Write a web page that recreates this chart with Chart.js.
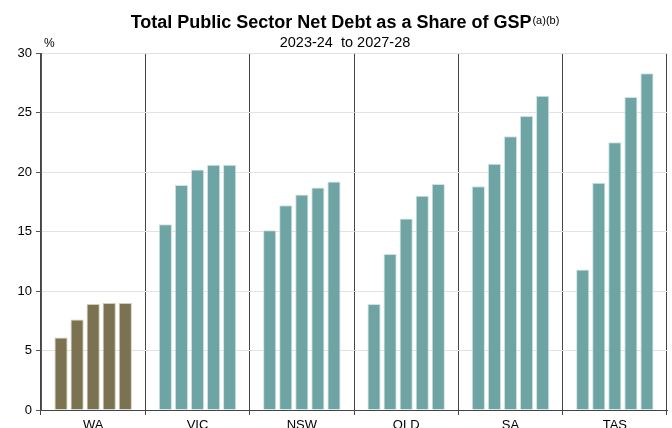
<!DOCTYPE html>
<html>
<head>
<meta charset="utf-8">
<script src="https://cdn.jsdelivr.net/npm/chart.js@4.4.0/dist/chart.umd.min.js"></script>
<style>
html,body{margin:0;padding:0;background:#fff;}
canvas{display:block;}
</style>
</head>
<body>
<canvas id="c" width="672" height="428"></canvas>
<script>
const states = ['WA', 'VIC', 'NSW', 'QLD', 'SA', 'TAS'];
const years = ['2023-24', '2024-25', '2025-26', '2026-27', '2027-28'];
const y2023_24 = [6.1, 15.6, 15.1, 8.9, 18.8, 11.8];
const y2024_25 = [7.6, 18.9, 17.2, 13.1, 20.7, 19.1];
const y2025_26 = [8.9, 20.2, 18.1, 16.1, 23.0, 22.5];
const y2026_27 = [9.0, 20.6, 18.7, 18.0, 24.7, 26.3];
const y2027_28 = [9.0, 20.6, 19.2, 19.0, 26.4, 28.3];
const yTicks = [0, 5, 10, 15, 20, 25, 30];

const seriesValues = [y2023_24, y2024_25, y2025_26, y2026_27, y2027_28];
const waFill = '#7a7250', waEdge = '#d2ccb4';
const tealFill = '#6ea4a3', tealEdge = '#cfe3e2';

const datasets = seriesValues.map((vals, i) => ({
  label: years[i],
  data: vals,
  backgroundColor: states.map(s => s === 'WA' ? waFill : tealFill),
  borderColor: states.map(s => s === 'WA' ? waEdge : tealEdge),
  borderWidth: 1,
  categoryPercentage: 0.77,
  barPercentage: 0.82
}));

const FONT = '"Liberation Sans", Arial, sans-serif';

const titlePlugin = {
  id: 'titlePlugin',
  afterDraw(chart) {
    const ctx = chart.ctx;
    ctx.save();
    ctx.fillStyle = '#000';
    ctx.textBaseline = 'alphabetic';
    const main = 'Total Public Sector Net Debt as a Share of GSP';
    const sup = '(a)(b)';
    ctx.font = 'bold 18px ' + FONT;
    const wMain = ctx.measureText(main).width;
    ctx.font = '11px ' + FONT;
    const wSup = ctx.measureText(sup).width;
    const total = wMain + wSup + 1;
    const cx = 345;
    const x0 = cx - total / 2;
    ctx.textAlign = 'left';
    ctx.font = 'bold 18px ' + FONT;
    ctx.fillText(main, x0, 28);
    ctx.font = '11px ' + FONT;
    ctx.fillText(sup, x0 + wMain + 1, 24);
    ctx.font = '14.5px ' + FONT;
    ctx.textAlign = 'center';
    ctx.fillText('2023-24  to 2027-28', cx, 47);
    ctx.font = '12px ' + FONT;
    ctx.textAlign = 'left';
    ctx.fillText('%', 44, 47);
    ctx.restore();
  }
};

new Chart(document.getElementById('c'), {
  type: 'bar',
  data: { labels: states, datasets },
  options: {
    responsive: false,
    animation: false,
    layout: { padding: { top: 53, right: 5, left: 0, bottom: 0 } },
    plugins: { legend: { display: false }, tooltip: { enabled: false }, title: { display: false } },
    scales: {
      x: {
        afterFit: s => { s.height = 18; },
        grid: { offset: true, color: '#444', lineWidth: 1, tickLength: 5, tickColor: '#444' },
        border: { color: '#444' },
        ticks: { color: '#000', font: { family: FONT, size: 13 }, padding: 3 }
      },
      y: {
        min: 0, max: 30,
        afterFit: s => { s.width = 41; },
        afterBuildTicks: s => { s.ticks = yTicks.map(v => ({ value: v })); },
        grid: { color: '#e2e2e2', lineWidth: 1, tickLength: 5, tickColor: '#555' },
        border: { color: '#555' },
        ticks: { color: '#000', font: { family: FONT, size: 13 }, padding: 4 }
      }
    }
  },
  plugins: [titlePlugin]
});
</script>
</body>
</html>
